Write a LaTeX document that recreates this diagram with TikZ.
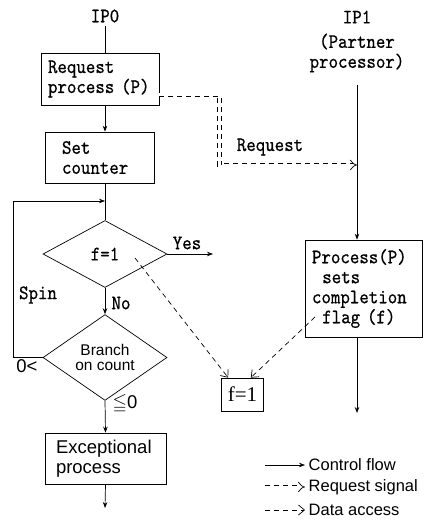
\documentclass[tikz,border=0pt]{standalone}
\usepackage{fontspec}
\usepackage{amssymb}
\setsansfont{Liberation Sans}
\newfontfamily\typefont{lmmono10-regular}[Extension=.otf, FakeStretch=0.88, FakeBold=0.6]
\newfontfamily\flagfont{Liberation Serif}
\usetikzlibrary{shapes.geometric,arrows.meta,positioning}

\begin{document}
\begin{tikzpicture}[x=1pt, y=-1pt, line width=0.7pt,
    mono/.style={font=\fontsize{20.5}{20}\selectfont\typefont},
    sans/.style={font=\fontsize{18.5}{20}\selectfont\sffamily},
    key/.style={font=\fontsize{16.5}{20}\selectfont\sffamily, anchor=west},
    box/.style={rectangle, draw, inner ysep=0pt, align=left},
    decision/.style={diamond, draw, inner sep=0pt, align=center, minimum width=124pt, minimum height=67pt},
    flow/.style={-{Stealth[length=6pt,width=4.5pt]}},
    access/.style={dashed, dash pattern=on 5pt off 4pt, -{Straight Barb[length=6pt,width=10pt]}},
    signal/.style={dash pattern=on 5pt off 4pt, double, double distance=3pt, -{Implies[length=8pt]}}]
    \useasboundingbox (0,0) rectangle (425,524);

    % IP0 side
    \node (ip0) [mono] at (105,16) {IP0};
    \node (req) [box, mono, inner xsep=7pt, text width=104pt, minimum height=52pt] at (100,79) {Request\\process (P)};
    \node (set) [box, mono, inner xsep=17pt, text width=75pt, minimum height=51pt] at (99.5,157.5) {Set\\counter};
    \node (chk) [decision, mono] at (105,254) {f=1};
    \node (cnt) [decision, font=\fontsize{15.5}{15}\selectfont\sffamily] at (105,357.5) {Branch\\on count};
    \node (exc) [box, sans, inner xsep=11pt, text width=99pt, minimum height=51pt] at (105.5,458.5) {Exceptional\\process};
    \coordinate (spin) at (13,201);
    \coordinate (yes) at (213,254);
    \coordinate (end0) at (105,508);

    \draw (ip0) -- (ip0 |- req.north);
    \draw[flow] (ip0 |- req.south) -- (ip0 |- set.north);
    \draw (ip0 |- set.south) -- (chk.north);
    \draw[flow] (cnt.west) -- (cnt.west -| spin) -- (spin) -- (spin -| chk);
    \draw[flow] (chk.east) -- (yes);
    \draw[flow] (chk.south) -- (cnt.north);
    \draw[flow] (cnt.south) -- (exc.north);
    \draw[flow] (exc.south) -- (end0);

    \node (lyes) [mono] at (187,243) {Yes};
    \node (lno) [mono] at (121,303) {No};
    \node (lspin) [mono] at (38,295) {Spin};
    \node (lgt) [sans] at (27,366) {0<};
    \node (lle) [sans] at (125,404) {$\leqq$0};

    % IP1 side
    \node (ip1) [mono] at (357,17) {IP1};
    \node (partner) [mono, align=center] at (357,53) {(Partner\\processor)};
    \coordinate (ip1top) at (357,85);
    \node (proc) [box, mono, inner xsep=7pt, text width=103pt, minimum height=97pt] at (363.5,288.5) {Process(P)\\\hspace*{.5em}sets\\completion\\\hspace*{.5em}flag (f)};
    \node (flag) [rectangle, draw, inner sep=0pt, minimum width=42pt, minimum height=33pt, font=\fontsize{21}{20}\selectfont\flagfont] at (242.5,394.5) {f=1};
    \coordinate (rq) at (219.5,165);
    \coordinate (end1) at (357,413);

    \draw[flow] (ip1top) -- (ip1top |- proc.north);
    \draw[flow] (ip1top |- proc.south) -- (end1);
    \draw[signal] ([yshift=-16pt]req.east) -| (rq) -- (ip1top |- rq);
    \node (lreq) [mono] at (270,147) {Request};

    % flag accesses
    \coordinate (fread) at (135,258);
    \coordinate (fwrite) at (315,317);
    \draw[access] (fread) -- ([xshift=7pt]flag.north west);
    \draw[access] (fwrite) -- ([xshift=-13pt]flag.north east);

    % key
    \node (kflow) [key] at (305,465) {Control flow};
    \node (ksig) [key] at (305,487) {Request signal};
    \node (kacc) [key] at (305,510) {Data access};
    \draw[flow] ([xshift=-40pt]kflow.west) -- (kflow.west);
    \draw[signal] ([xshift=-40pt]ksig.west) -- (ksig.west);
    \draw[access] ([xshift=-40pt]kacc.west) -- (kacc.west);
\end{tikzpicture}
\end{document}
